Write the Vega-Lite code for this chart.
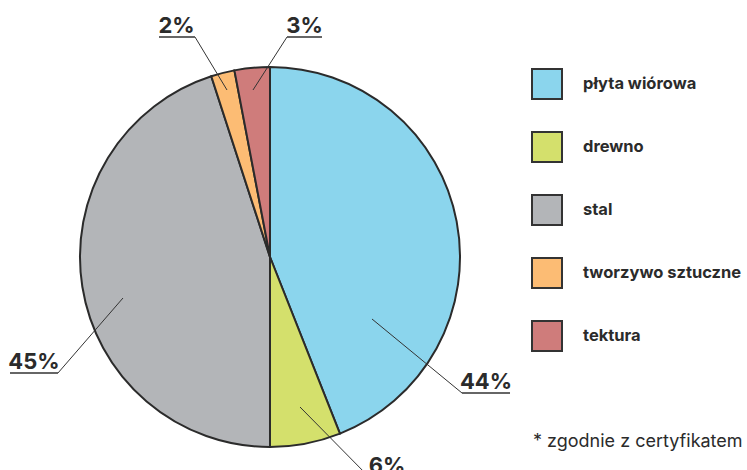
{
  "$schema": "https://vega.github.io/schema/vega-lite/v6.json",
  "width": 747,
  "height": 470,
  "padding": 0,
  "autosize": {"type": "none"},
  "background": "white",
  "config": {"view": {"stroke": null}, "font": "Inter"},
  "datasets": {
    "pie": [
      {"material": "płyta wiórowa", "value": 44, "o": 1},
      {"material": "drewno", "value": 6, "o": 2},
      {"material": "stal", "value": 45, "o": 3},
      {"material": "tworzywo sztuczne", "value": 2, "o": 4},
      {"material": "tektura", "value": 3, "o": 5}
    ],
    "leaders": [
      {"id": "2%", "p": 1, "x": -0.3947, "y": 1.1579},
      {"id": "2%", "p": 2, "x": -0.2263, "y": 0.8789},
      {"id": "3%", "p": 1, "x": 0.0895, "y": 1.1579},
      {"id": "3%", "p": 2, "x": -0.0895, "y": 0.8789},
      {"id": "45%", "p": 1, "x": -1.1158, "y": -0.6105},
      {"id": "45%", "p": 2, "x": -0.7737, "y": -0.2158},
      {"id": "44%", "p": 1, "x": 1.0105, "y": -0.7158},
      {"id": "44%", "p": 2, "x": 0.5368, "y": -0.3263},
      {"id": "6%", "p": 1, "x": 0.5263, "y": -1.1632},
      {"id": "6%", "p": 2, "x": 0.1579, "y": -0.7895}
    ],
    "underlines": [
      {"id": "2%", "p": 1, "x": -0.5842, "y": 1.1579},
      {"id": "2%", "p": 2, "x": -0.3947, "y": 1.1579},
      {"id": "3%", "p": 1, "x": 0.0895, "y": 1.1579},
      {"id": "3%", "p": 2, "x": 0.2737, "y": 1.1579},
      {"id": "45%", "p": 1, "x": -1.3684, "y": -0.6105},
      {"id": "45%", "p": 2, "x": -1.1158, "y": -0.6105},
      {"id": "44%", "p": 1, "x": 1.0105, "y": -0.7158},
      {"id": "44%", "p": 2, "x": 1.2632, "y": -0.7158},
      {"id": "6%", "p": 1, "x": 0.5263, "y": -1.1632},
      {"id": "6%", "p": 2, "x": 0.7105, "y": -1.1632}
    ],
    "labels": [
      {"text": "2%", "x": -0.4921, "y": 1.1789},
      {"text": "3%", "x": 0.1816, "y": 1.1789},
      {"text": "45%", "x": -1.2421, "y": -0.5895},
      {"text": "44%", "x": 1.1368, "y": -0.6947},
      {"text": "6%", "x": 0.6158, "y": -1.1368}
    ],
    "notes": [
      {"text": "* zgodnie z certyfikatem", "x": 1.3842, "y": -1.0}
    ]
  },
  "layer": [
    {
      "data": {"name": "pie"},
      "mark": {"type": "arc", "outerRadius": 190, "stroke": "#2b2b2b", "strokeWidth": 2},
      "encoding": {
        "x": {"datum": 0, "type": "quantitative", "scale": {"domain": [-1.42105, 2.51053], "nice": false, "zero": false}, "axis": null},
        "y": {"datum": 0, "type": "quantitative", "scale": {"domain": [-1.12105, 1.35263], "nice": false, "zero": false}, "axis": null},
        "theta": {"field": "value", "type": "quantitative", "stack": true},
        "order": {"field": "o", "type": "quantitative"},
        "color": {
          "field": "material",
          "type": "nominal",
          "scale": {
            "domain": ["płyta wiórowa", "drewno", "stal", "tworzywo sztuczne", "tektura"],
            "range": ["#8bd5ed", "#d4e06c", "#b3b5b8", "#fcbc74", "#cf7c7b"]
          },
          "legend": {
            "orient": "none",
            "legendX": 531,
            "legendY": 68,
            "title": null,
            "symbolType": "square",
            "symbolSize": 900,
            "symbolStrokeColor": "#333333",
            "symbolStrokeWidth": 2,
            "symbolOpacity": 1,
            "labelFont": "Inter",
            "labelFontSize": 16.5,
            "labelFontWeight": "bold",
            "labelColor": "#2b2b2b",
            "labelOffset": 20,
            "rowPadding": 25,
            "labelLimit": 300
          }
        }
      }
    },
    {
      "data": {"name": "leaders"},
      "mark": {"type": "line", "color": "#333333", "strokeWidth": 1, "clip": false},
      "encoding": {
        "x": {"field": "x", "type": "quantitative", "scale": {"domain": [-1.42105, 2.51053], "nice": false, "zero": false}, "axis": null},
        "y": {"field": "y", "type": "quantitative", "scale": {"domain": [-1.12105, 1.35263], "nice": false, "zero": false}, "axis": null},
        "detail": {"field": "id"},
        "order": {"field": "p", "type": "quantitative"}
      }
    },
    {
      "data": {"name": "underlines"},
      "mark": {"type": "line", "color": "#666666", "strokeWidth": 2, "clip": false},
      "encoding": {
        "x": {"field": "x", "type": "quantitative", "scale": {"domain": [-1.42105, 2.51053], "nice": false, "zero": false}, "axis": null},
        "y": {"field": "y", "type": "quantitative", "scale": {"domain": [-1.12105, 1.35263], "nice": false, "zero": false}, "axis": null},
        "detail": {"field": "id"},
        "order": {"field": "p", "type": "quantitative"}
      }
    },
    {
      "data": {"name": "labels"},
      "mark": {"type": "text", "font": "Inter", "fontSize": 22, "fontWeight": "bold", "color": "#2b2b2b", "align": "center", "baseline": "alphabetic"},
      "encoding": {
        "x": {"field": "x", "type": "quantitative", "scale": {"domain": [-1.42105, 2.51053], "nice": false, "zero": false}, "axis": null},
        "y": {"field": "y", "type": "quantitative", "scale": {"domain": [-1.12105, 1.35263], "nice": false, "zero": false}, "axis": null},
        "text": {"field": "text"}
      }
    },
    {
      "data": {"name": "notes"},
      "mark": {"type": "text", "font": "Inter", "fontSize": 18, "color": "#2b2b2b", "align": "left", "baseline": "alphabetic"},
      "encoding": {
        "x": {"field": "x", "type": "quantitative", "scale": {"domain": [-1.42105, 2.51053], "nice": false, "zero": false}, "axis": null},
        "y": {"field": "y", "type": "quantitative", "scale": {"domain": [-1.12105, 1.35263], "nice": false, "zero": false}, "axis": null},
        "text": {"field": "text"}
      }
    }
  ]
}
